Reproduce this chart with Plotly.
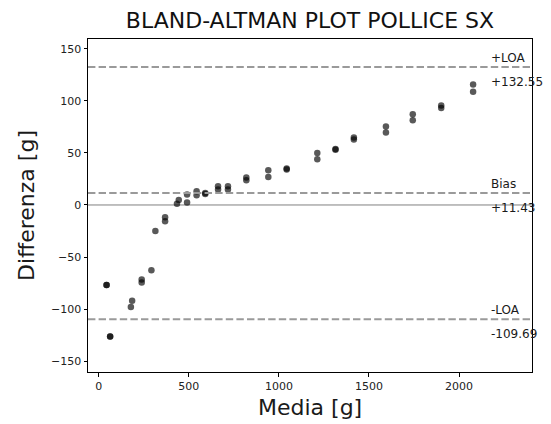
import plotly.graph_objects as go

# Data
media = [43, 43, 63, 63, 178, 185, 238, 238, 292, 314, 368, 368, 434, 444,
         490, 490, 543, 543, 591, 591, 662, 662, 717, 717, 819, 819, 941, 941,
         1043, 1043, 1213, 1213, 1314, 1314, 1416, 1416, 1594, 1594,
         1743, 1743, 1901, 1901, 2078, 2078]
differenza = [-77, -77, -126.5, -126.5, -98, -92, -71.7, -74.6, -62.8, -25,
              -11.8, -15.7, 1.3, 4.8, 10, 2.3, 13.2, 9.3, 11.5, 10.6,
              18, 14.8, 18, 14.8, 26.3, 23.7, 33.4, 27, 35, 34, 50, 43.9,
              53.8, 53, 64.8, 62.9, 75.4, 69.6, 87.2, 81.4, 95.5, 93.3,
              115.8, 108.7]

bias = 11.43
upper_loa = 132.55
lower_loa = -109.69
line_labels = ["+LOA", "Bias", "-LOA"]
line_values = [upper_loa, bias, lower_loa]
value_texts = ["+132.55", "+11.43", "-109.69"]

x_tick_vals = [0, 500, 1000, 1500, 2000]
y_tick_vals = [-150, -100, -50, 0, 50, 100, 150]
y_tick_text = ["\u2212150", "\u2212100", "\u221250", "0", "50", "100", "150"]

xr = [-60, 2405]
yr = [-160.5, 159.5]
text_x = 2168

fig = go.Figure()
fig.add_trace(go.Scatter(
    x=media, y=differenza, mode="markers",
    marker=dict(size=6.5, color="rgba(0,0,0,0.65)", line=dict(width=0)),
    showlegend=False, hoverinfo="x+y"))

shapes = []
for v in line_values:
    shapes.append(dict(type="line", xref="paper", x0=0, x1=1, yref="y", y0=v, y1=v,
                       line=dict(color="#9a9a9a", width=2, dash="7.4px,3.2px"),
                       layer="above"))
shapes.append(dict(type="line", xref="paper", x0=0, x1=1, yref="y", y0=0, y1=0,
                   line=dict(color="#808080", width=1), layer="below"))

annotations = []
for lab, v, vt in zip(line_labels, line_values, value_texts):
    annotations.append(dict(x=text_x, y=v, xref="x", yref="y", text=lab,
                            showarrow=False, xanchor="left", yanchor="middle",
                            yshift=9, font=dict(size=12, color="#1a1a1a",
                                                family="DejaVu Sans")))
    annotations.append(dict(x=text_x, y=v, xref="x", yref="y", text=vt,
                            showarrow=False, xanchor="left", yanchor="middle",
                            yshift=-15, font=dict(size=12, color="#1a1a1a",
                                                  family="DejaVu Sans")))
# x axis title placed in pixels below the plot area
annotations.append(dict(x=0.5, y=0, xref="paper", yref="paper",
                        text="Media [g]", showarrow=False, xanchor="center",
                        yanchor="middle", yshift=-35,
                        font=dict(size=22, color="#1a1a1a", family="DejaVu Sans")))

fig.update_layout(
    width=551, height=424,
    margin=dict(l=88, r=19, t=39, b=52),
    paper_bgcolor="white", plot_bgcolor="white",
    font=dict(family="DejaVu Sans", color="#1a1a1a"),
    title=dict(text="BLAND-ALTMAN PLOT POLLICE SX", x=0.5, xref="paper",
               y=1 - 20 / 424, yref="container", xanchor="center", yanchor="middle",
               font=dict(size=22, color="#111111", family="DejaVu Sans")),
    shapes=shapes, annotations=annotations,
    xaxis=dict(range=xr, tickvals=x_tick_vals, ticks="outside", ticklen=3.5,
               tickwidth=0.8, tickcolor="black", showline=True, linecolor="black",
               linewidth=1, mirror=True, showgrid=False, zeroline=False,
               tickfont=dict(size=11, color="#222222")),
    yaxis=dict(range=yr, tickvals=y_tick_vals, ticktext=y_tick_text, ticks="outside",
               ticklen=3.5, tickwidth=0.8, tickcolor="black", showline=True,
               linecolor="black", linewidth=1, mirror=True, showgrid=False,
               zeroline=False, tickfont=dict(size=11, color="#222222"),
               title=dict(text="Differenza [g]", standoff=10,
                          font=dict(size=22, color="#1a1a1a"))),
)

fig.write_html("out.html", config={"displayModeBar": False},
               post_script="document.body.style.margin='0px';document.body.style.padding='0px';")
